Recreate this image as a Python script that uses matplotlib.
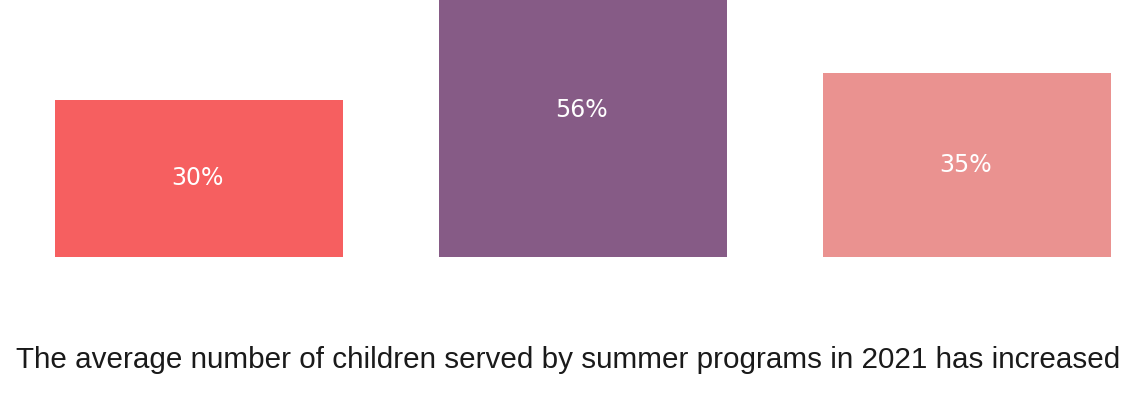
import matplotlib.pyplot as plt

# Share of programs reporting an increase, by group
groups = ['A', 'B', 'C']
values = [30, 56, 35]
colors = ['#F65F60', '#865B86', '#EA9290']
title = 'The average number of children served by summer programs in 2021 has increased'

fig = plt.figure(figsize=(11.29, 3.95), dpi=100)
ax = fig.add_axes([0, 0.350, 1, 0.650])

x = range(len(values))
bars = ax.bar(x, values, width=0.75, color=colors)

# value labels in the middle of each bar
for b, v in zip(bars, values):
    ax.text(b.get_x() + b.get_width() / 2 - 0.004, v / 2, f'{v}%',
            ha='center', va='center', color='white', fontsize=17,
            family='DejaVu Sans')

ax.set_xlim(-0.518, 2.422)
ax.set_ylim(0, 49.0)
ax.axis('off')

fig.text(16 / 1129, 1 - 368 / 395, title, ha='left', va='baseline',
         fontsize=21.3, family='Liberation Sans', color='#1a1a1a')

fig.savefig('out.png', dpi=100)
